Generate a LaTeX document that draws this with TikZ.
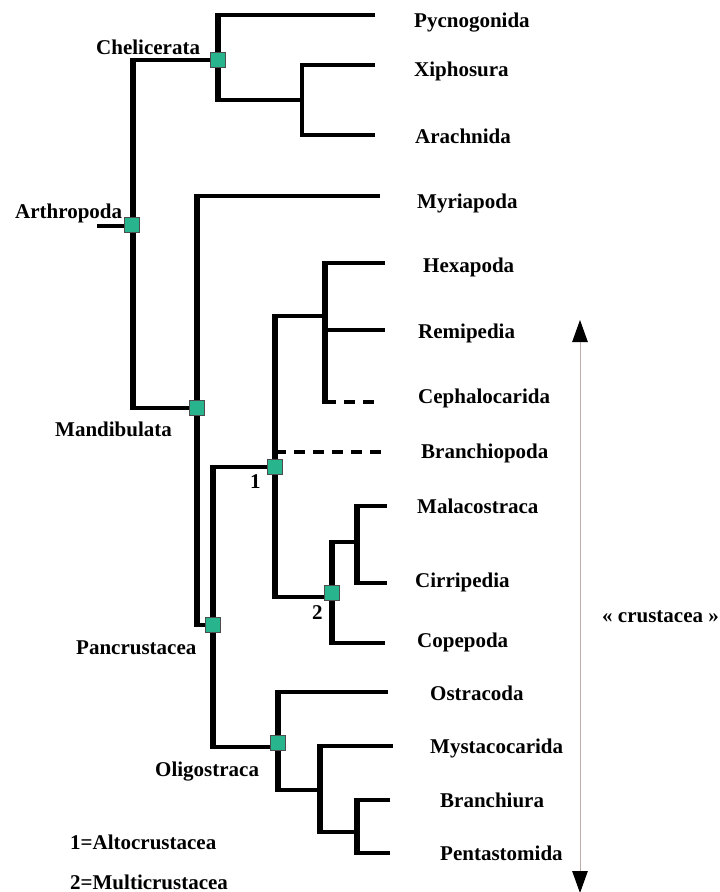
\documentclass[tikz,border=0pt]{standalone}
\usepackage{fontspec}
\setmainfont{Liberation Serif}
\usetikzlibrary{arrows.meta}
\definecolor{sqgreen}{RGB}{40,180,140}
\definecolor{arrowgray}{RGB}{190,172,172}
\begin{document}
\begin{tikzpicture}[x=1pt,y=-1pt,
  br/.style={line width=4pt, line join=miter},
  thinbr/.style={line width=3.3pt, line join=miter},
  vbr/.style={line width=5.6pt, shorten <=-2pt, shorten >=-2pt},
  thinvbr/.style={line width=4.2pt, shorten <=-1.6pt, shorten >=-1.6pt},
  dashbr/.style={line width=4pt, dash pattern=on 11pt off 8pt},
  sq/.style={draw=black!70, line width=0.6pt, fill=sqgreen, minimum size=15.5pt, inner sep=0pt},
  leaf/.style={anchor=base west, font=\bfseries\fontsize{21}{24}\selectfont, inner sep=0pt},
  clade/.style={anchor=base west, font=\bfseries\fontsize{21}{24}\selectfont, inner sep=0pt},
  crustarrow/.style={draw=arrowgray, line width=1pt, {Triangle[width=15.5pt,length=22pt,fill=black,color=black]}-{Triangle[width=15.5pt,length=22pt,fill=black,color=black]}}]
\useasboundingbox (0,0) rectangle (720,892);
% branch points
\coordinate (root) at (97,226);
\coordinate (arth) at (133,226);
\coordinate (chel) at (218,60);
\coordinate (xa) at (302,100);
\coordinate (mand) at (197,408);
\coordinate (panc) at (213,625);
\coordinate (alto) at (275,467);
\coordinate (hx) at (325,316);
\coordinate (cephS) at (325,402);
\coordinate (remS) at (325,330);
\coordinate (multi) at (332,597);
\coordinate (mc) at (357,542);
\coordinate (copS) at (332,643);
\coordinate (olig) at (278,747);
\coordinate (mp) at (320,790);
\coordinate (bp) at (357,832);
% leaf ends
\coordinate (pycE) at (375,15);
\coordinate (xipE) at (375,65);
\coordinate (araE) at (375,135);
\coordinate (myrE) at (380,196);
\coordinate (hexE) at (385,263);
\coordinate (remE) at (385,330);
\coordinate (cephE) at (382,402);
\coordinate (brE) at (387,452);
\coordinate (malE) at (387,506);
\coordinate (cirE) at (387,583);
\coordinate (copE) at (385,643);
\coordinate (ostE) at (388,692);
\coordinate (mysE) at (393,746);
\coordinate (brnE) at (390,800);
\coordinate (penE) at (390,853);
% branches
\draw[br] (root) -- (arth);
\draw[br] (chel) -| (arth) |- (mand);
\draw[br] (pycE) -| (chel) |- (xa);
\draw[thinbr] (xipE) -| (xa) |- (araE);
\draw[br] (myrE) -| (mand) |- (panc);
\draw[br] (alto) -| (panc) |- (olig);
\draw[br] (hx) -| (alto) |- (multi);
\draw[br] (hexE) -| (cephS);
\draw[br] (remS) -- (remE);
\draw[dashbr] (cephS) -- (cephE);
\draw[dashbr] (alto |- brE) -- (brE);
\draw[br] (mc) -| (copS) -- (copE);
\draw[br] (malE) -| (mc) |- (cirE);
\draw[br] (ostE) -| (olig) |- (mp);
\draw[br] (mysE) -| (mp) |- (bp);
\draw[br] (brnE) -| (bp) |- (penE);
% thicker vertical stems
\draw[vbr] (arth |- chel) -- (arth |- mand);
\draw[vbr] (chel |- pycE) -- (chel |- xa);
\draw[thinvbr] (xa |- xipE) -- (xa |- araE);
\draw[vbr] (mand |- myrE) -- (mand |- panc);
\draw[vbr] (panc |- alto) -- (panc |- olig);
\draw[vbr] (alto |- hx) -- (alto |- multi);
\draw[vbr] (hx |- hexE) -- (cephS);
\draw[vbr] (multi |- mc) -- (copS);
\draw[vbr] (mc |- malE) -- (mc |- cirE);
\draw[vbr] (olig |- ostE) -- (olig |- mp);
\draw[vbr] (mp |- mysE) -- (mp |- bp);
\draw[vbr] (bp |- brnE) -- (bp |- penE);
% squares
\node[sq] (sqchel) at (218,60) {};
\node[sq] (sqarth) at (132,225) {};
\node[sq] (sqmand) at (197,408) {};
\node[sq] (sqalto) at (275,467) {};
\node[sq] (sqmulti) at (332,593) {};
\node[sq] (sqpanc) at (213,625) {};
\node[sq] (sqolig) at (278,743) {};
% leaf labels
\node[leaf] (lpyc) at (414,27) {Pycnogonida};
\node[leaf] (lxip) at (414,76) {Xiphosura};
\node[leaf] (lara) at (415,143) {Arachnida};
\node[leaf] (lmyr) at (417,208) {Myriapoda};
\node[leaf] (lhex) at (423,272) {Hexapoda};
\node[leaf] (lrem) at (418,338) {Remipedia};
\node[leaf] (lcep) at (418,403) {Cephalocarida};
\node[leaf] (lbra) at (421,458) {Branchiopoda};
\node[leaf] (lmal) at (417,513) {Malacostraca};
\node[leaf] (lcir) at (415,587) {Cirripedia};
\node[leaf] (lcop) at (417,647) {Copepoda};
\node[leaf] (lost) at (430,700) {Ostracoda};
\node[leaf] (lmys) at (430,753) {Mystacocarida};
\node[leaf] (lbrn) at (440,807) {Branchiura};
\node[leaf] (lpen) at (440,860) {Pentastomida};
% clade labels
\node[clade] (tchel) at (96,54) {Chelicerata};
\node[clade] (tarth) at (15,218) {Arthropoda};
\node[clade] (tmand) at (55,436) {Mandibulata};
\node[clade] (tpanc) at (76,654) {Pancrustacea};
\node[clade] (tolig) at (155,776) {Oligostraca};
\node[clade] (tone) at (250,488) {1};
\node[clade] (ttwo) at (312,619) {2};
\node[clade] (kone) at (70,849) {1=Altocrustacea};
\node[clade] (ktwo) at (70,889) {2=Multicrustacea};
% crustacea arrow
\coordinate (atop) at (580,320);
\coordinate (abot) at (580,893);
\draw[crustarrow] (atop) -- (abot);
\node[clade] (tcrus) at (602,622) {« crustacea »};
\end{tikzpicture}
\end{document}
